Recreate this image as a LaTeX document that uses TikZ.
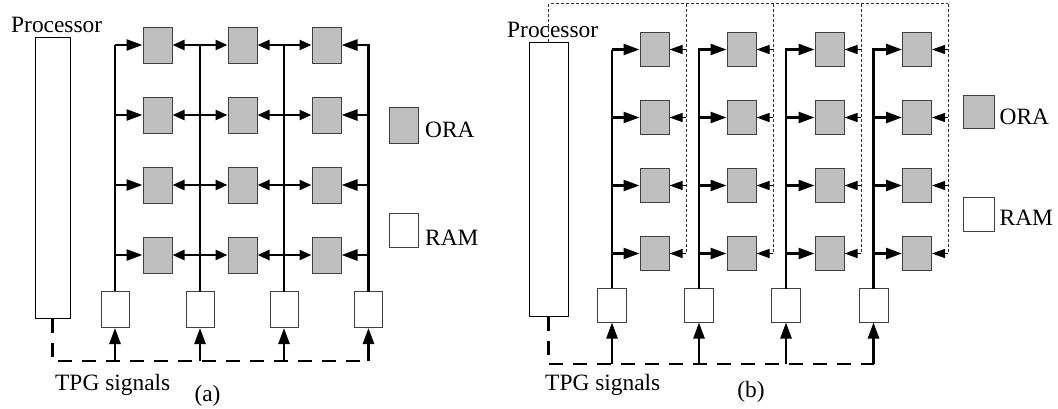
\documentclass[tikz,border=0pt]{standalone}
\usepackage{fontspec}
\setmainfont{Liberation Serif}
\usetikzlibrary{arrows.meta}
\tikzset{
  ora/.style    ={draw=black!75, fill=black!25, line width=1pt, inner sep=0pt, minimum width=29pt, minimum height=36pt},
  ram/.style    ={draw=black!75, fill=white, line width=1pt, inner sep=0pt, minimum width=28pt, minimum height=36pt},
  proc/.style   ={draw, line width=1pt, inner sep=0pt, minimum width=35pt},
  tap/.style    ={line width=1.3pt},
  bus/.style    ={line width=2.7pt, line cap=rect},
  inarr/.style  ={-{Triangle[length=16pt,width=11pt]}, line width=2.5pt},
  dblarr/.style ={{Triangle[length=12pt,width=10pt]}-{Triangle[length=12pt,width=10pt]}, line width=2.5pt},
  retarr/.style ={-{Triangle[length=13pt,width=9pt]}, line width=1pt},
  uparr/.style  ={-{Triangle[length=16pt,width=11pt]}, line width=2.5pt},
  tpg/.style    ={line width=2.5pt, dash pattern=on 14pt off 10pt},
  ctl/.style    ={line width=0.9pt, black!80, dash pattern=on 3pt off 2pt},
  lbl/.style    ={font=\fontsize{23.4pt}{28pt}\selectfont, inner sep=0pt},
}

\begin{document}
\begin{tikzpicture}[x=1pt, y=-1pt]
  \useasboundingbox (0,0) rectangle (1058,408);
  % (a) shared lines, ORAs talk to both neighbours
  \node[proc, minimum height=281pt] (pa) at (52.5,177.5) {};
  \node[lbl, anchor=base west] (pa-l) at (11,32) {Processor};
  \foreach \c/\x in {1/157.5,2/242.5,3/326.5}
    \foreach \r/\y in {1/45,2/115,3/185,4/255}
      \node[ora] (oa-\c-\r) at (\x,\y) {};
  \foreach \k/\x in {1/115,2/200,3/284,4/368.5}
    \node[ram] (ra-\k) at (\x,309.5) {};
  \draw[tap] (ra-1.north) -- (ra-1.north |- oa-1-1);
  \foreach \k in {2,3,4}
    \draw[bus] (ra-\k.north) -- (ra-\k.north |- oa-1-1);
  \foreach \r in {1,...,4} {
    \draw[inarr] (ra-1 |- oa-1-\r) -- (oa-1-\r.west);
    \draw[dblarr] (oa-1-\r.east) -- (oa-2-\r.west);
    \draw[dblarr] (oa-2-\r.east) -- (oa-3-\r.west);
    \draw[inarr] (ra-4 |- oa-3-\r) -- (oa-3-\r.east);
  }
  \coordinate (busa) at (368.5,361);
  \draw[tpg] (pa.south) |- (busa);
  \foreach \k in {1,...,4}
    \draw[uparr] (ra-\k |- busa) -- (ra-\k.south);
  \node[ora] (ka-o) at (403.5,125) {};
  \node[lbl, anchor=base west] (ka-ot) at (425,137) {ORA};
  \node[ram, minimum width=29pt, minimum height=34pt] (ka-r) at (403.5,230) {};
  \node[lbl, anchor=base west] (ka-rt) at (425,245) {RAM};
  \node[lbl, anchor=base west] (tpa) at (55,390) {TPG signals};
  \node[lbl, anchor=base] (capa) at (207.5,401) {(a)};

  % (b) one RAM per column, return path from the processor
  \node[proc, minimum width=39pt, minimum height=274pt] (pb) at (548.5,179) {};
  \node[lbl, anchor=base west] (pb-l) at (507,37) {Processor};
  \foreach \c/\x in {1/654.5,2/741.5,3/829.5,4/917}
    \foreach \r/\y in {1/49.5,2/117.5,3/185.5,4/253.5}
      \node[ora, minimum height=34pt] (ob-\c-\r) at (\x,\y) {};
  \foreach \k/\x in {1/612,2/699,3/786,4/873.5}
    \node[ram, minimum width=29pt, minimum height=34pt] (rb-\k) at (\x,305) {};
  \draw[tap] (rb-1.north) -- (rb-1.north |- ob-1-1);
  \foreach \k in {2,3,4}
    \draw[bus] (rb-\k.north) -- (rb-\k.north |- ob-1-1);
  \foreach \k in {1,...,4}
    \foreach \r in {1,...,4}
      \draw[inarr] (rb-\k |- ob-\k-\r) -- (ob-\k-\r.west);
  \foreach \k/\x in {1/686,2/773,3/861,4/948}
    \coordinate (dv-\k) at (\x,3.5);
  \draw[ctl] (pb.north) |- (dv-4);
  \foreach \k in {1,...,4} {
    \draw[ctl] (dv-\k) -- (dv-\k |- ob-\k-4);
    \foreach \r in {1,...,4}
      \draw[retarr] (dv-\k |- ob-\k-\r) -- (ob-\k-\r.east);
  }
  \coordinate (busb) at (873.5,364);
  \draw[tpg] (pb.south) |- (busb);
  \foreach \k in {1,...,4}
    \draw[uparr] (rb-\k |- busb) -- (rb-\k.south);
  \node[ora, minimum width=31pt, minimum height=33pt] (kb-o) at (978.5,111.5) {};
  \node[lbl, anchor=base west] (kb-ot) at (999.5,124) {ORA};
  \node[ram, minimum width=31pt, minimum height=34pt] (kb-r) at (978.5,214) {};
  \node[lbl, anchor=base west] (kb-rt) at (999.5,225) {RAM};
  \node[lbl, anchor=base west] (tpb) at (545,390) {TPG signals};
  \node[lbl, anchor=base] (capb) at (751,397) {(b)};
\end{tikzpicture}
\end{document}
